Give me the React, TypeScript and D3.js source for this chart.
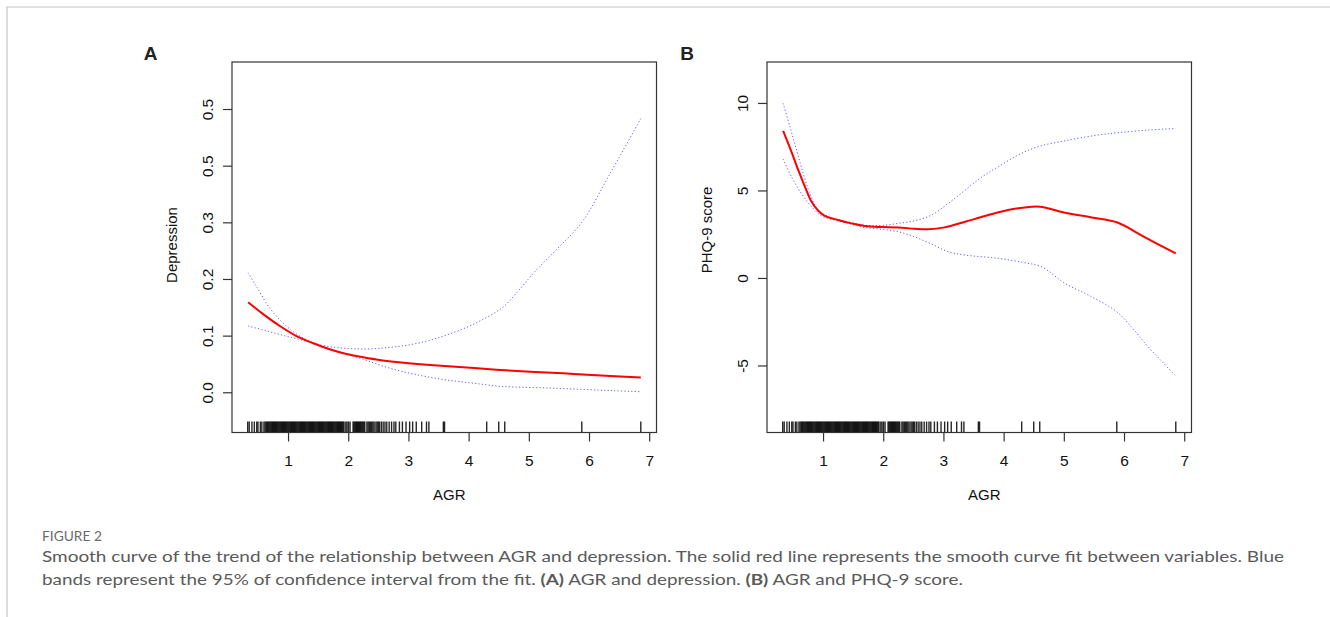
import React, { useEffect, useRef } from 'react';
import * as d3 from 'd3';

// AGR observations shown as the rug under both panels
const rugX = [
  0.33, 0.355, 0.40, 0.44, 0.48, 0.50, 0.54, 0.565, 0.60, 0.62,
  0.64, 0.655, 0.67, 0.685, 0.70, 0.715, 0.73, 0.745, 0.76, 0.775, 0.79, 0.805, 0.82, 0.835, 0.85,
  0.865, 0.88, 0.895, 0.91, 0.925, 0.94, 0.955, 0.97, 0.985, 1.00, 1.015, 1.03, 1.045, 1.06, 1.075,
  1.09, 1.105, 1.12, 1.135, 1.15, 1.165, 1.18, 1.195, 1.21, 1.225, 1.24, 1.255, 1.27, 1.285, 1.30,
  1.315, 1.33, 1.345, 1.36, 1.375, 1.39, 1.405, 1.42, 1.435, 1.45, 1.465, 1.48, 1.495, 1.51, 1.525,
  1.54, 1.555, 1.57, 1.585, 1.60, 1.615, 1.63, 1.645, 1.66, 1.675, 1.69, 1.705, 1.72, 1.735, 1.75,
  1.765, 1.78, 1.795, 1.81, 1.825, 1.84, 1.855, 1.87, 1.885, 1.90, 1.915, 1.93,
  1.96, 1.98, 2.005, 2.03,
  2.08, 2.095, 2.11, 2.125, 2.14, 2.155, 2.17, 2.185, 2.20, 2.215, 2.23, 2.245, 2.26, 2.275,
  2.31, 2.33, 2.35, 2.37, 2.39, 2.41, 2.43, 2.46, 2.48, 2.50, 2.52,
  2.55, 2.58, 2.61, 2.64, 2.68, 2.72, 2.76, 2.79, 2.85, 2.90, 2.96, 3.02, 3.07, 3.13, 3.22,
  3.30, 3.34, 3.58, 3.60, 4.30, 4.50, 4.60, 5.88, 6.86,
];

const xTicks = [1, 2, 3, 4, 5, 6, 7];

// Panel A: depression
const depTicks = [0, 0.1, 0.2, 0.3, 0.4, 0.5];
const depTickLabels = ['0.0', '0.1', '0.2', '0.3', '0.5', '0.5'];
const depFit = [
  [0.337, 0.159], [0.587, 0.138], [0.864, 0.117], [1.14, 0.0993], [1.42, 0.0865],
  [1.69, 0.0759], [1.97, 0.0676], [2.25, 0.0618], [2.52, 0.057], [2.8, 0.0535],
  [3.36, 0.0482], [3.91, 0.0441], [4.46, 0.0399], [5.02, 0.0364], [5.57, 0.0335],
  [6.12, 0.03], [6.86, 0.0262],
];
const depUpper = [
  [0.337, 0.211], [0.48, 0.186], [0.7, 0.148], [0.92, 0.122], [1.14, 0.103],
  [1.42, 0.0875], [1.69, 0.0805], [1.97, 0.0776], [2.25, 0.0764], [2.52, 0.0776],
  [2.8, 0.0805], [3.08, 0.085], [3.36, 0.092], [3.63, 0.101], [3.91, 0.112],
  [4.19, 0.126], [4.46, 0.142], [4.6, 0.153], [4.85, 0.182], [5.1, 0.213],
  [5.46, 0.252], [5.88, 0.3], [6.38, 0.392], [6.86, 0.483],
];
const depLower = [
  [0.337, 0.117], [0.587, 0.11], [0.864, 0.102], [1.14, 0.0946], [1.42, 0.0865],
  [1.69, 0.0764], [1.97, 0.0676], [2.25, 0.0582], [2.52, 0.0482], [2.8, 0.0394],
  [3.08, 0.0323], [3.36, 0.0265], [3.63, 0.0217], [3.91, 0.0182], [4.19, 0.0146],
  [4.46, 0.0111], [4.74, 0.0094], [5.29, 0.0076], [5.85, 0.0053], [6.4, 0.0028],
  [6.86, 0.001],
];

// Panel B: PHQ-9 score
const phqTicks = [-5, 0, 5, 10];
const phqTickLabels = ['-5', '0', '5', '10'];
const phqFit = [
  [0.337, 8.41], [0.476, 7.21], [0.587, 6.17], [0.7, 5.21], [0.81, 4.35],
  [0.92, 3.84], [1.03, 3.55], [1.25, 3.31], [1.47, 3.12], [1.69, 2.97],
  [1.97, 2.91], [2.25, 2.89], [2.52, 2.81], [2.75, 2.78], [3.02, 2.89],
  [3.36, 3.21], [3.69, 3.54], [4.02, 3.84], [4.35, 4.03], [4.6, 4.07],
  [5.02, 3.73], [5.46, 3.46], [5.88, 3.18], [6.35, 2.32], [6.86, 1.4],
];
const phqUpper = [
  [0.337, 9.98], [0.45, 8.64], [0.56, 7.31], [0.67, 5.98], [0.78, 4.83],
  [0.92, 3.88], [1.09, 3.5], [1.42, 3.21], [1.69, 3.02], [1.97, 3.0],
  [2.25, 3.12], [2.52, 3.27], [2.8, 3.59], [3.08, 4.26], [3.36, 5.02],
  [3.63, 5.75], [3.91, 6.35], [4.24, 7.02], [4.57, 7.5], [5.02, 7.84],
  [5.57, 8.17], [5.9, 8.3], [6.4, 8.45], [6.86, 8.54],
];
const phqLower = [
  [0.337, 6.79], [0.476, 5.78], [0.64, 4.83], [0.81, 4.07], [0.975, 3.54],
  [1.14, 3.35], [1.42, 3.12], [1.69, 2.89], [1.97, 2.78], [2.25, 2.64],
  [2.52, 2.35], [2.8, 1.94], [3.08, 1.5], [3.36, 1.31], [3.91, 1.12],
  [4.35, 0.87], [4.63, 0.64], [5.02, -0.31], [5.46, -1.07], [5.88, -1.93],
  [6.12, -2.79], [6.4, -3.93], [6.86, -5.6],
];

const captionHead = 'FIGURE 2';
const captionLine1 =
  'Smooth curve of the trend of the relationship between AGR and depression. The solid red line represents the smooth curve fit between variables. Blue';
const captionLine2 = [
  { t: 'bands represent the 95% of confidence interval from the fit. ', b: false },
  { t: '(A)', b: true },
  { t: ' AGR and depression. ', b: false },
  { t: '(B)', b: true },
  { t: ' AGR and PHQ-9 score.', b: false },
];

const FONT = '"Liberation Sans", Arial, Helvetica, sans-serif';
const CAP_FONT = 'Lato, "Open Sans", sans-serif';

const panels = [
  {
    tag: 'A', tagX: 150.5,
    box: { left: 232, right: 656.5, top: 62, bottom: 432.5 },
    yDomain: [-0.071, 0.583], yTicks: depTicks, yLabels: depTickLabels,
    yTitle: 'Depression', yTitleY: 245,
    fit: depFit, upper: depUpper, lower: depLower,
  },
  {
    tag: 'B', tagX: 687,
    box: { left: 767, right: 1191.5, top: 62, bottom: 432.5 },
    yDomain: [-8.83, 12.34], yTicks: phqTicks, yLabels: phqTickLabels,
    yTitle: 'PHQ-9 score', yTitleY: 230,
    fit: phqFit, upper: phqUpper, lower: phqLower,
  },
];

function drawPanel(svg, p) {
  const { box } = p;
  const x = d3.scaleLinear().domain([0.069, 7.121]).range([box.left, box.right]);
  const y = d3.scaleLinear().domain(p.yDomain).range([box.bottom, box.top]);
  const g = svg.append('g');

  // rug
  g.append('g')
    .selectAll('line')
    .data(rugX)
    .join('line')
    .attr('x1', d => x(d))
    .attr('x2', d => x(d))
    .attr('y1', box.bottom)
    .attr('y2', box.bottom - 11)
    .attr('stroke', '#000')
    .attr('stroke-width', 1.4)
    .attr('stroke-opacity', 0.85);

  const line = d3.line()
    .x(d => x(d[0]))
    .y(d => y(d[1]))
    .curve(d3.curveCatmullRom);

  // confidence bands
  [p.upper, p.lower].forEach(band => {
    g.append('path')
      .attr('d', line(band))
      .attr('fill', 'none')
      .attr('stroke', '#2a2aff')
      .attr('stroke-width', 1)
      .attr('stroke-opacity', 0.75)
      .attr('stroke-dasharray', '1.2 2.2');
  });

  // fitted curve
  g.append('path')
    .attr('d', line(p.fit))
    .attr('fill', 'none')
    .attr('stroke', '#ff0000')
    .attr('stroke-width', 2)
    .attr('stroke-linejoin', 'round');

  // box
  g.append('rect')
    .attr('x', box.left)
    .attr('y', box.top)
    .attr('width', box.right - box.left)
    .attr('height', box.bottom - box.top)
    .attr('fill', 'none')
    .attr('stroke', '#333')
    .attr('stroke-width', 1.2);

  // x axis
  const xa = g.append('g')
    .attr('transform', `translate(0,${box.bottom})`)
    .call(
      d3.axisBottom(x)
        .tickValues(xTicks)
        .tickFormat(d3.format('d'))
        .tickSize(9)
        .tickPadding(13)
        .tickSizeOuter(0)
    );
  xa.select('.domain').remove();
  xa.attr('font-family', FONT).attr('font-size', 15.5);
  xa.selectAll('line').attr('stroke', '#333').attr('stroke-width', 1.2);
  xa.selectAll('text').attr('fill', '#111');

  // y axis
  const ya = g.append('g')
    .attr('transform', `translate(${box.left},0)`)
    .call(
      d3.axisLeft(y)
        .tickValues(p.yTicks)
        .tickFormat((d, i) => p.yLabels[i])
        .tickSize(9)
        .tickSizeOuter(0)
    );
  ya.select('.domain').remove();
  ya.attr('font-family', FONT).attr('font-size', 15.5);
  ya.selectAll('line').attr('stroke', '#333').attr('stroke-width', 1.2);
  ya.selectAll('text')
    .attr('fill', '#111')
    .attr('transform', 'rotate(-90)')
    .attr('x', 0)
    .attr('y', -19.5)
    .attr('dy', null)
    .attr('text-anchor', 'middle');

  // axis titles
  g.append('text')
    .attr('x', (box.left + box.right) / 2 + 5)
    .attr('y', 500)
    .attr('text-anchor', 'middle')
    .attr('font-family', FONT)
    .attr('font-size', 15)
    .attr('fill', '#111')
    .text('AGR');

  g.append('text')
    .attr('transform', `translate(${box.left - 55},${p.yTitleY}) rotate(-90)`)
    .attr('text-anchor', 'middle')
    .attr('font-family', FONT)
    .attr('font-size', 15)
    .attr('fill', '#111')
    .text(p.yTitle);

  // panel letter
  g.append('text')
    .attr('x', p.tagX)
    .attr('y', 60)
    .attr('text-anchor', 'middle')
    .attr('font-family', FONT)
    .attr('font-size', 19)
    .attr('font-weight', 'bold')
    .attr('fill', '#222')
    .text(p.tag);
}

const App = () => {
  const svgRef = useRef(null);

  useEffect(() => {
    const svg = d3.select(svgRef.current);
    svg.selectAll('*').remove();

    // page frame (left and top edges only are visible)
    svg.append('path')
      .attr('d', 'M7,617 V7 H1330')
      .attr('fill', 'none')
      .attr('stroke', '#c4c4c4')
      .attr('stroke-width', 1.2);

    panels.forEach(p => drawPanel(svg, p));

    // caption
    svg.append('text')
      .attr('x', 42)
      .attr('y', 540.5)
      .attr('font-family', CAP_FONT)
      .attr('font-size', 13)
      .attr('fill', '#6a6a6a')
      .attr('textLength', 60)
      .attr('lengthAdjust', 'spacingAndGlyphs')
      .text(captionHead);

    svg.append('text')
      .attr('x', 42)
      .attr('y', 562)
      .attr('font-family', CAP_FONT)
      .attr('font-size', 16)
      .attr('fill', '#5a5a5a')
      .attr('textLength', 1242)
      .attr('lengthAdjust', 'spacingAndGlyphs')
      .text(captionLine1);

    const l2 = svg.append('text')
      .attr('x', 42)
      .attr('y', 585)
      .attr('font-family', CAP_FONT)
      .attr('font-size', 16)
      .attr('fill', '#5a5a5a')
      .attr('textLength', 921)
      .attr('lengthAdjust', 'spacingAndGlyphs');
    l2.selectAll('tspan')
      .data(captionLine2)
      .join('tspan')
      .attr('font-weight', d => (d.b ? 'bold' : null))
      .text(d => d.t);
  }, []);

  return (
    <svg
      ref={svgRef}
      width={1330}
      height={617}
      style={{ position: 'absolute', left: 0, top: 0, background: '#fff', display: 'block' }}
    />
  );
};

export default App;
